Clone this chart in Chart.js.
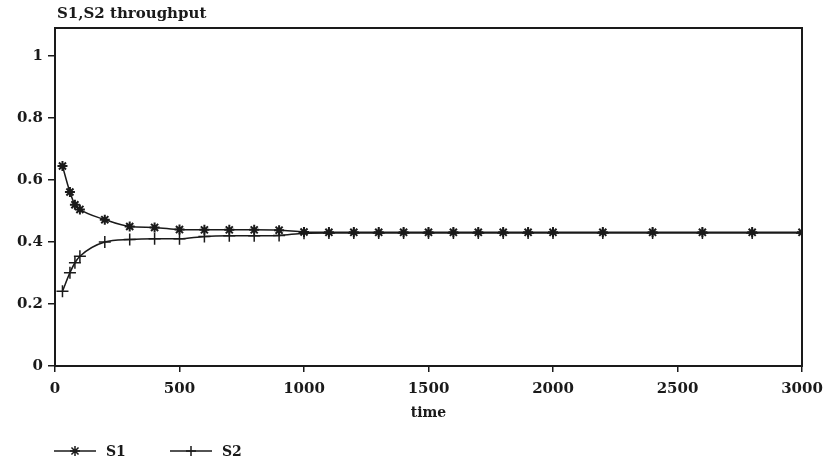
<!DOCTYPE html>
<html>
<head>
<meta charset="utf-8">
<script src="https://cdn.jsdelivr.net/npm/chart.js@4/dist/chart.umd.min.js"></script>
<style>
  body { margin: 0; background: #fff; }
  #wrap { width: 824px; height: 464px; }
</style>
</head>
<body>
<div id="wrap"><canvas id="thr" width="824" height="464"></canvas></div>
<script>
// simulation time at each sample
const times = [30, 60, 80, 100, 200, 300, 400, 500, 600, 700, 800, 900, 1000, 1100, 1200, 1300, 1400,
  1500, 1600, 1700, 1800, 1900, 2000, 2200, 2400, 2600, 2800, 3000];
const s1 = [0.645, 0.561, 0.52, 0.505, 0.472, 0.45, 0.447, 0.44, 0.439, 0.439, 0.439, 0.438, 0.432, 0.431,
  0.431, 0.431, 0.431, 0.431, 0.431, 0.431, 0.431, 0.431, 0.431, 0.431, 0.431, 0.431, 0.431, 0.431];
const s2 = [0.241, 0.301, 0.333, 0.354, 0.4, 0.408, 0.41, 0.41, 0.418, 0.42, 0.42, 0.421, 0.428, 0.429,
  0.429, 0.429, 0.429, 0.429, 0.429, 0.429, 0.429, 0.429, 0.429, 0.429, 0.429, 0.429, 0.429, 0.429];
const xTicks = [0, 500, 1000, 1500, 2000, 2500, 3000];
const yTicks = [0, 0.2, 0.4, 0.6, 0.8, 1];

const ink = '#1a1a1a';
const serif = 'DejaVu Serif';

function pts(ys) {
  return times.map((t, i) => ({ x: t, y: ys[i] }));
}

// frame, title and legend like the old plot
const decor = {
  id: 'decor',
  afterDraw(chart) {
    const c = chart.ctx, a = chart.chartArea;
    c.save();
    c.strokeStyle = ink;
    c.lineWidth = 2;
    c.strokeRect(a.left, a.top, a.right - a.left, a.bottom - a.top);

    c.fillStyle = ink;
    c.font = 'bold 15px "' + serif + '"';
    c.textBaseline = 'middle';
    c.textAlign = 'left';
    c.fillText('S1,S2 throughput', a.left + 2, 14);

    // legend
    const items = [
      { x: 54, label: 'S1', style: 'star' },
      { x: 170, label: 'S2', style: 'cross' }
    ];
    const y = 451;
    c.lineWidth = 1.5;
    items.forEach(it => {
      c.beginPath();
      c.moveTo(it.x, y);
      c.lineTo(it.x + 42, y);
      c.stroke();
      Chart.helpers.drawPoint(c, { pointStyle: it.style, radius: 5, borderWidth: 1.5 }, it.x + 21, y);
      c.font = 'bold 14px "' + serif + '"';
      c.fillText(it.label, it.x + 52, y + 1);
    });
    c.restore();
  }
};

new Chart(document.getElementById('thr'), {
  type: 'line',
  data: {
    datasets: [
      {
        label: 'S1',
        data: pts(s1),
        borderColor: ink,
        borderWidth: 1.5,
        pointStyle: 'star',
        pointRadius: 5,
        pointBorderWidth: 2,
        pointBorderColor: ink,
        pointBackgroundColor: ink,
        cubicInterpolationMode: 'monotone'
      },
      {
        label: 'S2',
        data: pts(s2),
        borderColor: ink,
        borderWidth: 1.5,
        pointStyle: 'cross',
        pointRadius: 6,
        pointBorderWidth: 1.5,
        pointBorderColor: ink,
        pointBackgroundColor: ink,
        cubicInterpolationMode: 'monotone'
      }
    ]
  },
  options: {
    responsive: false,
    animation: false,
    layout: { padding: { top: 28, right: 22, bottom: 38, left: 0 } },
    plugins: {
      legend: { display: false },
      tooltip: { enabled: false }
    },
    scales: {
      x: {
        type: 'linear',
        min: 0,
        max: 3000,
        afterBuildTicks: s => { s.ticks = xTicks.map(v => ({ value: v })); },
        afterFit: s => { s.height = 60; s.paddingRight = 0; s.paddingLeft = 0; },
        grid: { display: true, drawOnChartArea: false, drawTicks: true, tickLength: 6, color: ink, lineWidth: 1.5 },
        border: { display: true, color: ink, width: 2 },
        ticks: { color: ink, padding: 8, maxRotation: 0, callback: v => String(v),
          font: { family: serif, size: 15, weight: 'bold' } },
        title: { display: true, text: 'time', color: ink, padding: { top: 0, bottom: 4 },
          font: { family: serif, size: 14, weight: 'bold' } }
      },
      y: {
        min: 0,
        max: 1.09,
        afterBuildTicks: s => { s.ticks = yTicks.map(v => ({ value: v })); },
        afterFit: s => { s.width = 55; },
        grid: { display: true, drawOnChartArea: false, drawTicks: true, tickLength: 7, color: ink, lineWidth: 1.5 },
        border: { display: true, color: ink, width: 2 },
        ticks: { color: ink, padding: 5, callback: v => String(v),
          font: { family: serif, size: 15, weight: 'bold' } }
      }
    }
  },
  plugins: [decor]
});
</script>
</body>
</html>
